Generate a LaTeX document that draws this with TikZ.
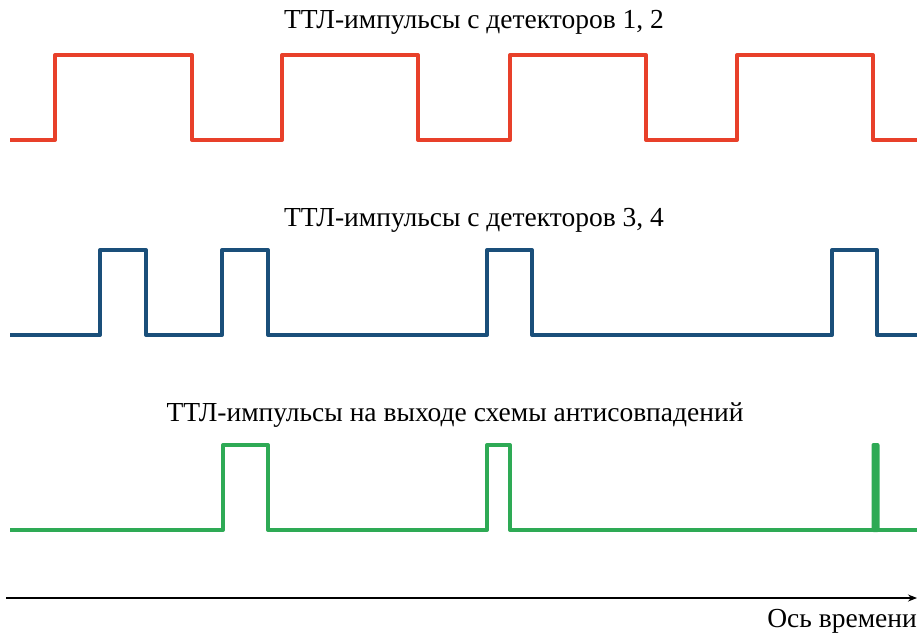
\documentclass[tikz,border=0pt]{standalone}
\usepackage{fontspec}
\setmainfont{Liberation Serif}
\usetikzlibrary{arrows.meta}
\definecolor{cred}{HTML}{E8402A}
\definecolor{cblue}{HTML}{1A4F7A}
\definecolor{cgreen}{HTML}{2EAA55}
\begin{document}
\begin{tikzpicture}[x=1pt,y=-1pt,
  wave/.style={line width=4pt,line join=round,line cap=butt},
  title/.style={font=\fontsize{27.5}{30}\selectfont,inner sep=0pt,anchor=base}]
\useasboundingbox (0,0) rectangle (917,633);
% titles
\node[title] (t1) at (474,28) {ТТЛ-импульсы с детекторов 1, 2};
\node[title] (t2) at (474,226) {ТТЛ-импульсы с детекторов 3, 4};
\node[title] (t3) at (455,421) {ТТЛ-импульсы на выходе схемы антисовпадений};
% red
\draw[wave,cred] (10,140) -- (55,140) -- (55,55) -- (192,55) -- (192,140) -- (282,140) -- (282,55)
  -- (418,55) -- (418,140) -- (510,140) -- (510,55) -- (646,55) -- (646,140) -- (737,140) -- (737,55)
  -- (873,55) -- (873,140) -- (917,140);
% blue
\draw[wave,cblue] (10,335) -- (100,335) -- (100,250) -- (146,250) -- (146,335) -- (222,335) -- (222,250)
  -- (268,250) -- (268,335) -- (487,335) -- (487,250) -- (532,250) -- (532,335) -- (832,335) -- (832,250)
  -- (877,250) -- (877,335) -- (917,335);
% green
\draw[wave,cgreen] (10,530) -- (223,530) -- (223,445) -- (268,445) -- (268,530) -- (487,530) -- (487,445)
  -- (510,445) -- (510,530) -- (917,530);
\fill[cgreen,rounded corners=2pt] (871.5,443) rectangle (879.5,532);
% axis
\coordinate (a0) at (6,598);
\coordinate (a1) at (917,598);
\draw[line width=1.2pt,-{Stealth[length=9pt,width=7pt]}] (a0) -- (a1);
\node[font=\fontsize{27.5}{30}\selectfont,inner sep=0pt,anchor=base east] (lab) at (917,627) {Ось времени};
\end{tikzpicture}
\end{document}
